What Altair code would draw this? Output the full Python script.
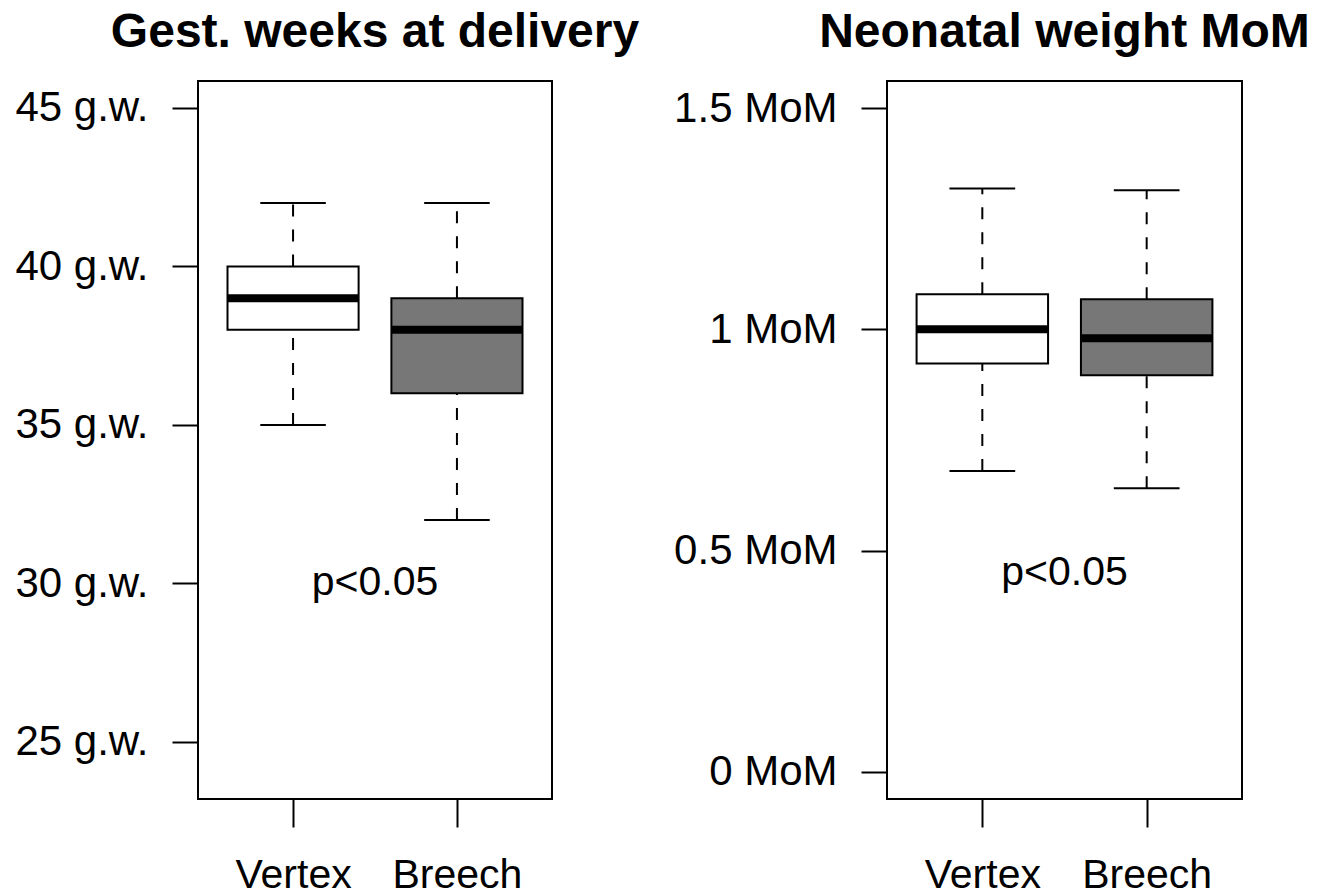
import altair as alt
import pandas as pd

groups = ["Vertex", "Breech"]
fills = ["white", "#777777"]

gest_low = [35, 32]
gest_q1 = [38, 36]
gest_med = [39, 38]
gest_q3 = [40, 39]
gest_high = [42, 42]

mom_low = [0.68, 0.641]
mom_q1 = [0.923, 0.896]
mom_med = [1.0, 0.98]
mom_q3 = [1.079, 1.068]
mom_high = [1.318, 1.314]

gest_ticks = [25, 30, 35, 40, 45]
mom_ticks = [0, 0.5, 1, 1.5]

FONT = "Liberation Sans"


def make_df(low, q1, med, q3, high):
    rows = []
    for i, g in enumerate(groups):
        pos = i + 1
        rows.append(dict(group=g, pos=pos, left=pos - 0.4, right=pos + 0.4,
                         capL=pos - 0.2, capR=pos + 0.2,
                         low=low[i], q1=q1[i], med=med[i], q3=q3[i], high=high[i],
                         fill=fills[i]))
    return pd.DataFrame(rows)


def panel(df, title, ydomain, yticks, unit, ptext_y, width):
    xscale = alt.Scale(domain=[0.42, 2.58], nice=False, zero=False)
    yscale = alt.Scale(domain=ydomain, nice=False, zero=False)
    xaxis = alt.Axis(values=[1, 2], labelExpr="datum.value == 1 ? 'Vertex' : 'Breech'",
                     title=None, grid=False, domain=False, tickSize=28, tickWidth=2,
                     tickColor="black", labelFontSize=41, labelFont=FONT, labelColor="black",
                     labelPadding=28)
    yaxis = alt.Axis(values=yticks, labelExpr="datum.value + ' " + unit + "'",
                     title=None, grid=False, domain=False, tickSize=26, tickWidth=2,
                     tickColor="black", labelFontSize=42, labelFont=FONT, labelColor="black",
                     labelPadding=24)
    base = alt.Chart(df)
    w_lo = base.mark_rule(color="black", strokeWidth=2, strokeDash=[12, 13]).encode(
        x=alt.X("pos:Q", scale=xscale, axis=xaxis),
        y=alt.Y("low:Q", scale=yscale, axis=yaxis),
        y2="q1:Q")
    w_hi = base.mark_rule(color="black", strokeWidth=2, strokeDash=[12, 13]).encode(
        x="pos:Q", y="q3:Q", y2="high:Q")
    cap_lo = base.mark_rule(color="black", strokeWidth=2).encode(
        x="capL:Q", x2="capR:Q", y="low:Q")
    cap_hi = base.mark_rule(color="black", strokeWidth=2).encode(
        x="capL:Q", x2="capR:Q", y="high:Q")
    box = base.mark_rect(stroke="black", strokeWidth=2).encode(
        x="left:Q", x2="right:Q", y="q1:Q", y2="q3:Q",
        fill=alt.Fill("fill:N", scale=None))
    med = base.mark_rule(color="black", strokeWidth=8).encode(
        x="left:Q", x2="right:Q", y="med:Q")
    ptxt = alt.Chart(pd.DataFrame({"x": [1.5], "y": [ptext_y], "t": ["p<0.05"]})).mark_text(
        fontSize=41, font=FONT, color="black", baseline="middle", align="center").encode(
        x="x:Q", y="y:Q", text="t:N")
    return alt.layer(w_lo, w_hi, cap_lo, cap_hi, box, med, ptxt).properties(
        width=width, height=718,
        title=alt.TitleParams(title, fontSize=48, fontWeight="bold", font=FONT,
                              anchor="middle", color="black", offset=-14,
                              baseline="alphabetic"))


left = panel(make_df(gest_low, gest_q1, gest_med, gest_q3, gest_high),
             "Gest. weeks at delivery", [23.2, 45.85], gest_ticks, "g.w.", 30, 354)
right = panel(make_df(mom_low, mom_q1, mom_med, mom_q3, mom_high),
              "Neonatal weight MoM", [-0.061, 1.561], mom_ticks, "MoM", 0.45, 355)

chart = alt.hconcat(left, right, spacing=335, bounds="flush").properties(
    padding={"left": 5, "top": 0, "right": 5, "bottom": 5}
).configure_view(stroke="black", strokeWidth=2)

chart.save("out.html", embed_options={"renderer": "svg", "actions": False})
